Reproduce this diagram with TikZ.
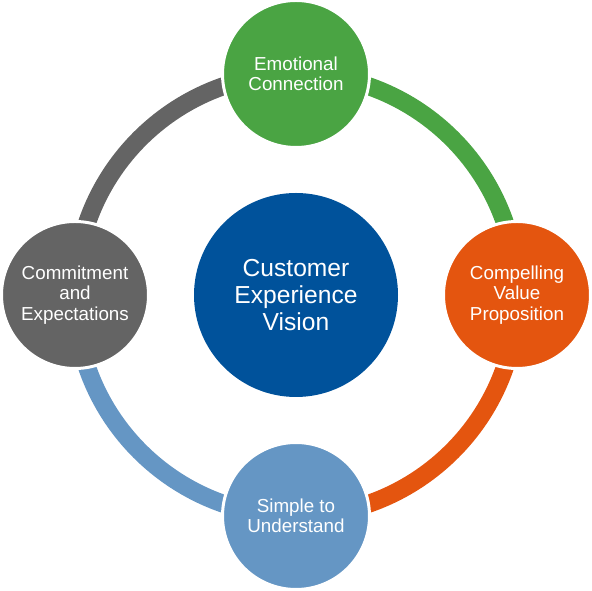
\documentclass[tikz,border=0pt]{standalone}
\usepackage{fontspec}
\setmainfont{Liberation Sans}
\usepackage{tikz}
\definecolor{emogreen}{HTML}{4AA443}
\definecolor{valorange}{HTML}{E4550F}
\definecolor{visionblue}{HTML}{00529B}
\definecolor{simpleblue}{HTML}{6596C4}
\definecolor{commitgray}{HTML}{646464}
\tikzset{
  ring/.style={line width=18*0.02cm},
  bubble/.style={circle, draw=white, line width=3*0.02cm, minimum size=147*0.02cm, inner sep=0pt,
    text=white, align=center, font=\fontsize{10.7}{11.6}\selectfont},
}

\begin{document}
\begin{tikzpicture}[x=0.02cm,y=0.02cm]
% Fix the page to the reference size
\useasboundingbox (0, 0) rectangle (592, 591);
% Centre circle
\node[circle, fill=visionblue, minimum size=204*0.02cm, inner sep=0pt, text=white, align=center,
  font=\fontsize{14}{15.3}\selectfont] (vision) at (296, 296) {Customer\\Experience\\Vision};
% Ring segments between the outer circles
\draw[ring, emogreen] (vision.center) ++(90:221) arc[start angle=90, end angle=0, radius=221];
\draw[ring, valorange] (vision.center) ++(0:221) arc[start angle=0, end angle=-90, radius=221];
\draw[ring, simpleblue] (vision.center) ++(-90:221) arc[start angle=-90, end angle=-180, radius=221];
\draw[ring, commitgray] (vision.center) ++(180:221) arc[start angle=180, end angle=90, radius=221];
% Outer circles on top of the ring
\node[bubble, fill=emogreen] (emotion) at (296, 517) {Emotional\\Connection};
\node[bubble, fill=valorange] (value) at (517, 296) {Compelling\\Value\\Proposition};
\node[bubble, fill=simpleblue] (simple) at (296, 75) {Simple to\\Understand};
\node[bubble, fill=commitgray] (commit) at (75, 296) {Commitment\\and\\Expectations};
\end{tikzpicture}
\end{document}
